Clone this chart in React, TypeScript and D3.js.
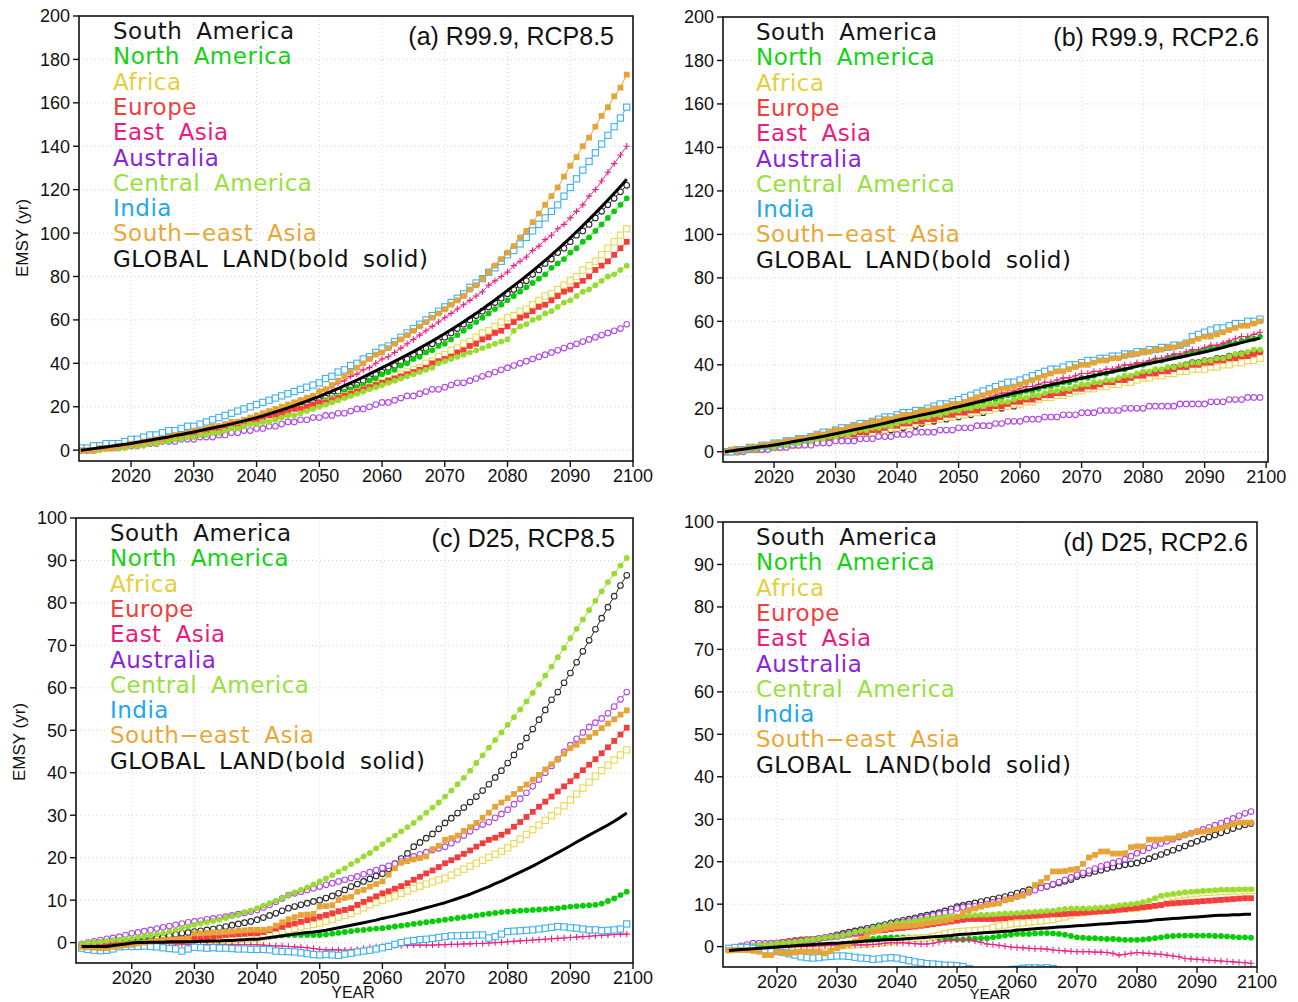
import React from 'react';
import * as d3 from 'd3';

const YEARS = [2012,2013,2014,2015,2016,2017,2018,2019,
2020,2021,2022,2023,2024,2025,2026,2027,2028,2029,
2030,2031,2032,2033,2034,2035,2036,2037,2038,2039,
2040,2041,2042,2043,2044,2045,2046,2047,2048,2049,
2050,2051,2052,2053,2054,2055,2056,2057,2058,2059,
2060,2061,2062,2063,2064,2065,2066,2067,2068,2069,
2070,2071,2072,2073,2074,2075,2076,2077,2078,2079,
2080,2081,2082,2083,2084,2085,2086,2087,2088,2089,
2090,2091,2092,2093,2094,2095,2096,2097,2098,2099];

const X_TICKS = [2020, 2030, 2040, 2050, 2060, 2070, 2080, 2090, 2100];
const Y_TICKS_R = [0, 20, 40, 60, 80, 100, 120, 140, 160, 180, 200];
const Y_TICKS_D = [0, 10, 20, 30, 40, 50, 60, 70, 80, 90, 100];

const LABELS = ['South America', 'North America', 'Africa', 'Europe', 'East Asia', 'Australia',
  'Central America', 'India', 'South\u2212east Asia', 'GLOBAL LAND(bold solid)'];

// ---------- (a) R99.9, RCP8.5 ----------
const A_SA = [0,0,1,1,1,2,2,3, 3,3,4,4,5,5,6,6,7,7, 8,8,9,9,10,11,11,12,13,13, 14,15,16,16,17,18,19,20,21,22, 23,24,25,27,28,29,30,32,33,35, 36,38,39,41,42,44,45,47,49,50, 52,54,56,58,60,62,64,66,68,70, 72,74,76,78,81,83,86,88,91,93, 96,99,101,104,107,110,113,116,119,122];
const A_NA = [0,0,0,1,1,1,2,2, 3,3,3,4,4,5,5,6,6,7, 7,8,9,9,10,10,11,12,12,13, 14,14,15,16,17,17,18,19,20,21, 22,23,24,25,27,28,29,30,32,33, 35,36,37,39,40,42,43,45,46,48, 49,51,53,55,57,59,61,63,65,67, 69,71,73,75,77,79,81,84,86,88, 91,93,96,98,101,104,107,110,113,116];
const A_AF = [0,0,0,1,1,1,2,2, 2,3,3,4,4,5,5,6,6,7, 7,8,8,9,9,10,11,11,12,13, 13,14,15,15,16,17,18,19,19,20, 21,22,23,24,25,26,27,28,29,30, 31,32,33,35,36,37,38,40,41,43, 44,46,47,49,50,52,54,55,57,59, 61,62,64,65,67,69,71,72,74,76, 78,80,83,85,87,90,93,96,99,102];
const A_EU = [0,0,0,1,1,1,2,2, 3,3,4,4,5,5,6,6,7,7, 8,8,9,10,10,11,12,12,13,14, 14,15,16,16,17,18,19,19,20,21, 22,22,23,24,25,26,27,28,29,30, 31,32,33,34,35,36,37,38,40,41, 42,43,45,46,48,49,51,52,54,55, 57,59,61,62,64,66,67,69,71,73, 74,76,78,80,83,85,87,90,93,96];
const A_EA = [0,0,1,1,1,2,2,3, 3,4,4,5,5,6,6,7,7,8, 8,9,9,10,11,11,12,13,13,14, 15,16,17,18,19,20,21,23,24,25, 27,28,29,31,32,34,35,37,38,40, 42,43,45,47,49,51,53,55,57,59, 61,63,65,67,69,71,73,76,78,80, 82,85,87,89,92,94,97,99,102,104, 107,110,113,117,120,124,128,132,136,140];
const A_AU = [0,0,0,1,1,1,1,2, 2,2,3,3,3,4,4,4,5,5, 5,6,6,6,7,7,8,8,9,9, 10,10,11,11,12,13,13,14,14,15, 15,16,16,17,17,18,19,19,20,21, 22,22,23,24,25,25,26,27,28,28, 29,30,31,31,32,33,34,35,36,37, 38,39,40,41,42,43,44,45,46,47, 48,49,50,51,52,53,54,55,56,58];
const A_CA = [0,0,0,0,1,1,1,1, 2,2,2,3,3,4,4,5,5,6, 6,7,7,8,8,9,10,10,11,12, 12,13,13,14,15,16,16,17,18,19, 20,21,22,23,24,25,26,27,28,29, 30,31,32,33,34,35,36,37,38,40, 41,42,43,44,45,46,47,48,49,50, 51,55,57,58,60,61,63,64,66,68, 69,71,73,74,76,78,80,81,83,85];
const A_IN = [1,1,2,2,3,3,3,4, 5,5,6,7,7,8,9,9,10,11, 11,12,13,14,15,16,17,18,19,20, 21,22,23,24,25,26,27,28,29,30, 31,33,34,36,37,39,40,42,43,45, 47,48,50,52,54,56,58,60,62,64, 66,68,70,72,75,77,79,82,84,87, 90,92,95,98,101,104,107,110,113,117, 121,125,129,133,137,141,145,149,153,158];
const A_SE = [0,0,0,1,1,1,2,2, 3,3,4,4,5,5,6,7,7,8, 9,9,10,11,11,12,13,13,14,15, 16,17,18,19,20,21,22,23,24,25, 27,28,30,32,34,36,38,40,42,44, 45,47,49,51,53,55,57,59,61,63, 65,67,69,71,74,76,79,82,85,88, 91,94,98,101,105,109,113,117,121,126, 131,135,140,144,149,154,158,163,167,173];
const A_GL = [0,0.3,0.7,1.1,1.5,1.9,2.3,2.7, 3.1,3.6,4.1,4.6,5.1,5.6,6.1,6.7,7.2,7.8, 8.4,9.0,9.6,10.2,10.8,11.4,12.1,12.8,13.5,14.2, 15.0,15.8,16.7,17.6,18.5,19.5,20.5,21.5,22.6,23.7, 24.8,26.0,27.2,28.4,29.7,31.0,32.3,33.7,35.1,36.5, 38.0,39.4,40.9,42.4,43.9,45.4,47.0,48.6,50.3,52.0, 53.7,55.5,57.3,59.2,61.1,63.0,65.0,67.1,69.2,71.4, 73.6,75.8,78.0,80.3,82.6,85.0,87.4,89.9,92.5,95.1, 97.8,100.6,103.4,106.3,109.2,112.2,115.2,118.3,121.5,124.8];

// ---------- (b) R99.9, RCP2.6 ----------
const B_SA = [0,0,0,1,1,1,1,2, 2,2,3,3,3,4,4,5,5,5, 6,6,7,7,8,8,9,9,10,10, 11,11,12,12,13,14,14,15,15,16, 16,17,17,18,18,19,20,20,21,21, 22,23,23,24,25,25,26,27,27,28, 29,29,30,31,31,32,33,33,34,35, 35,36,37,37,38,39,39,40,41,41, 42,42,43,43,44,44,45,45,46,46];
const B_NA = [0,0,0,1,1,1,2,2, 3,3,4,4,5,5,6,6,7,7, 8,8,9,9,10,10,11,12,12,13, 13,14,15,15,16,17,17,18,19,19, 20,21,21,22,23,24,24,25,26,26, 27,28,28,29,30,30,31,32,32,33, 34,34,35,36,36,37,38,38,39,40, 40,41,42,42,43,44,44,45,46,46, 47,48,48,49,50,50,51,52,52,53];
const B_AF = [0,0,0,1,1,1,1,2, 2,2,3,3,3,4,4,5,5,6, 6,7,7,8,8,9,9,10,10,11, 11,12,12,13,14,14,15,15,16,16, 17,17,18,18,19,19,20,21,21,22, 22,23,23,24,25,25,26,26,27,28, 28,29,29,30,30,31,31,32,32,33, 34,34,35,35,36,36,37,37,38,38, 38,39,39,40,40,41,41,42,42,43];
const B_EU = [0,0,0,1,1,1,1,2, 2,2,3,3,4,4,5,5,6,6, 7,7,8,8,9,9,10,10,11,12, 12,13,13,14,14,15,15,16,17,17, 18,18,19,19,20,20,21,21,22,23, 23,24,24,25,26,26,27,27,28,29, 29,30,30,31,32,32,33,33,34,35, 35,36,36,37,37,38,39,39,40,40, 41,41,42,42,43,43,44,44,45,46];
const B_EA = [0,0,1,1,1,2,2,3, 3,4,4,5,5,6,6,7,8,8, 9,9,10,11,11,12,13,13,14,15, 15,16,16,17,18,18,19,20,20,21, 22,22,23,24,24,25,26,27,27,28, 29,30,30,31,32,32,33,34,34,35, 36,36,37,37,38,38,39,40,40,41, 41,42,43,43,44,45,45,46,47,47, 48,49,49,50,51,52,53,53,54,55];
const B_AU = [0,0,0,0,1,1,1,1, 2,2,2,3,3,3,3,4,4,4, 5,5,5,5,6,6,6,7,7,7, 8,8,8,9,9,9,9,10,10,10, 11,11,11,12,12,12,13,13,14,14, 14,15,15,15,16,16,16,17,17,17, 18,18,18,19,19,19,19,20,20,20, 20,21,21,21,21,21,22,22,22,22, 22,23,23,23,24,24,24,25,25,25];
const B_CA = [0,0,0,1,1,1,2,2, 2,3,3,4,4,5,5,6,6,7, 7,8,8,9,10,10,11,11,12,12, 13,14,14,15,16,16,17,17,18,19, 19,20,20,21,21,22,22,23,23,24, 25,25,26,26,27,28,28,29,29,30, 31,31,32,32,33,33,34,35,35,36, 37,37,38,38,39,39,40,40,41,41, 42,42,43,43,44,45,45,46,47,47];
const B_IN = [0,0,1,1,2,2,3,3, 4,4,5,5,6,6,7,8,9,9, 10,11,11,12,13,13,14,15,16,16, 17,18,18,19,19,20,21,22,22,23, 24,25,26,27,28,29,30,31,32,32, 33,34,35,36,37,38,38,39,40,40, 41,42,42,43,43,44,44,45,45,46, 46,47,47,48,48,49,49,50,53,54, 55,56,57,57,58,59,59,60,60,61];
const B_SE = [0,1,1,1,2,2,3,3, 4,4,5,5,6,6,7,8,8,9, 10,10,11,12,12,13,14,14,15,15, 16,17,17,18,19,19,20,20,21,22, 22,23,24,25,26,27,28,29,29,30, 31,32,33,34,35,36,37,37,38,39, 40,40,41,42,42,43,43,44,45,45, 46,46,47,47,48,48,49,50,51,52, 53,53,54,55,56,57,58,58,59,60];
const B_GL = [0,0.4,0.8,1.2,1.6,2.0,2.4,2.7, 3.1,3.6,4.1,4.6,5.1,5.6,6.1,6.6,7.1,7.7, 8.3,8.9,9.5,10.1,10.7,11.3,11.9,12.5,13.1,13.8, 14.5,15.1,15.7,16.3,16.9,17.5,18.1,18.8,19.4,20.1, 20.7,21.4,22.1,22.8,23.5,24.2,24.9,25.6,26.3,27.0, 27.6,28.2,28.8,29.5,30.1,30.8,31.4,32.0,32.6,33.2, 33.8,34.4,35.0,35.6,36.2,36.8,37.4,38.0,38.6,39.3, 40.0,40.6,41.2,41.7,42.3,42.9,43.5,44.1,44.7,45.3, 45.9,46.6,47.3,48.0,48.8,49.5,50.2,50.9,51.6,52.2];

// ---------- (c) D25, RCP8.5 ----------
const C_SA = [-0.8,-0.6,-0.4,-0.3,-0.1,0,0.1,0.2, 0.2,0.4,0.6,0.9,1.1,1.3,1.6,1.9,2.2,2.4, 2.6,2.8,3.0,3.2,3.5,3.8,4.1,4.4,4.7,5.0, 5.4,5.9,6.4,6.9,7.5,8.1,8.5,8.9,9.3,9.7, 10.0,10.5,11.0,11.6,12.4,13.2,13.8,14.4,15.0,15.7, 16.2,17.4,18.6,19.8,21.0,22.6,23.6,24.6,25.6,26.8, 28.2,29.3,30.5,31.8,33.1,34.4,35.8,37.3,38.9,40.5, 42.3,44.2,46.2,48.2,50.3,52.5,54.8,57.2,59.0,61.2, 63.5,66.0,68.6,71.2,73.8,76.4,79.0,81.6,84.1,86.5];
const C_NA = [-0.5,-0.4,-0.3,-0.2,-0.1,0,0.1,0.1, 0.2,0.3,0.3,0.4,0.4,0.5,0.5,0.5,0.6,0.6, 0.6,0.7,0.7,0.8,0.8,0.8,0.9,0.9,1.0,1.0, 1.0,1.2,1.4,1.6,1.7,1.8,1.8,1.8,1.8,1.8, 1.8,1.9,2.1,2.3,2.5,2.7,2.9,3.0,3.2,3.3, 3.4,3.6,3.8,4.0,4.2,4.4,4.6,4.8,5.0,5.2, 5.4,5.6,5.8,6.0,6.2,6.4,6.6,6.8,7.0,7.2, 7.3,7.4,7.5,7.6,7.7,7.8,7.9,8.0,8.1,8.3, 8.5,8.6,8.7,8.8,8.9,9.2,9.8,10.4,11.2,12.0];
const C_AF = [-1.0,-0.9,-0.8,-0.8,-0.7,-0.6,-0.6,-0.5, -0.5,-0.4,-0.3,-0.2,-0.1,0,0.1,0.1,0.2,0.2, 0.2,0.3,0.4,0.4,0.5,0.6,0.6,0.7,0.8,0.9, 1.0,1.3,1.7,2.1,2.5,3.0,3.3,3.7,4.0,4.3, 4.6,5.0,5.5,6.0,6.4,6.9,7.5,8.2,8.9,9.5, 10.0,10.5,11.0,11.6,12.2,12.8,13.3,13.8,14.3,14.8, 15.2,15.9,16.6,17.3,18.0,18.7,19.4,20.1,20.8,21.5, 22.3,23.3,24.4,25.5,26.6,27.7,28.8,29.9,31.0,32.2, 33.6,35.0,36.4,37.8,39.2,40.5,41.8,43.0,44.2,45.4];
const C_EU = [-1.0,-0.9,-0.8,-0.7,-0.6,-0.5,-0.5,-0.4, -0.4,-0.2,0,0.2,0.4,0.6,0.7,0.8,0.9,1.0, 1.0,1.2,1.3,1.4,1.6,1.8,1.9,2.0,2.1,2.2, 2.2,2.5,2.9,3.3,3.7,4.2,4.5,4.9,5.3,5.7, 6.1,6.5,6.9,7.4,7.7,8.1,8.9,9.6,10.2,10.9, 11.6,12.1,12.7,13.3,14.0,14.8,15.5,16.3,17.0,17.8, 18.7,19.4,20.1,20.9,21.7,22.6,23.4,24.2,24.7,25.4, 26.2,27.3,28.4,29.6,30.8,32.0,33.2,34.4,35.6,36.8, 38.0,39.3,40.6,41.9,43.2,44.6,46.0,47.5,49.0,50.6];
const C_EA = [-0.6,-0.5,-0.5,-0.4,-0.4,-0.3,-0.3,-0.3, -0.4,-0.3,-0.2,-0.2,-0.1,-0.1,-0.2,-0.3,-0.3,-0.4, -0.5,-0.5,-0.5,-0.5,-0.5,-0.5,-0.5,-0.5,-0.5,-0.5, -0.5,-0.6,-0.7,-0.8,-0.8,-0.9,-1.0,-1.1,-1.2,-1.4, -1.6,-1.7,-1.7,-1.7,-1.8,-1.7,-1.6,-1.4,-1.2,-1.0, -0.9,-0.8,-0.7,-0.7,-0.6,-0.6,-0.6,-0.6,-0.6,-0.5, -0.5,-0.4,-0.4,-0.3,-0.3,-0.2,-0.2,-0.1,0,0.1, 0.2,0.3,0.4,0.5,0.6,0.7,0.8,0.9,1.0,1.1, 1.2,1.3,1.4,1.5,1.6,1.7,1.8,1.9,2.0,2.0];
const C_AU = [-0.3,0,0.3,0.6,0.9,1.1,1.4,1.8, 2.2,2.4,2.7,3.0,3.3,3.6,3.9,4.2,4.5,4.8, 5.0,5.2,5.5,5.7,5.9,6.1,6.4,6.7,7.0,7.3, 7.7,8.3,8.9,9.6,10.4,11.2,11.6,12.0,12.4,12.8, 13.2,13.6,14.0,14.4,14.8,15.2,15.6,16.1,16.6,17.1, 17.6,18.1,18.6,19.1,19.7,20.3,20.8,21.3,21.8,22.2, 22.6,23.4,24.3,25.2,26.2,27.2,27.8,28.4,29.4,30.3, 31.3,32.6,33.9,35.3,36.8,38.4,40.0,41.6,43.2,44.9, 46.5,48.0,49.5,50.8,51.8,52.8,54.0,55.6,57.3,59.0];
const C_CA = [-0.3,0,0.1,0.2,0.4,0.6,0.7,0.9, 1.0,1.3,1.6,1.8,2.0,2.2,2.6,3.0,3.4,3.8, 4.2,4.5,4.8,5.1,5.4,5.8,6.2,6.6,7.1,7.6, 8.1,8.7,9.3,9.9,10.5,11.2,11.8,12.4,13.0,13.7, 14.4,15.1,15.9,16.7,17.5,18.5,19.3,20.3,21.1,22.2, 23.2,24.2,25.2,26.2,27.2,28.2,29.4,30.6,31.8,33.0, 34.4,35.8,37.3,38.8,40.5,42.3,44.1,45.9,47.7,49.5, 51.3,53.1,54.9,56.8,58.8,60.8,62.9,65.0,67.2,69.4, 71.7,73.9,76.1,78.3,80.5,82.7,84.9,86.9,88.8,90.6];
const C_IN = [-1.3,-1.6,-1.8,-1.9,-1.8,-1.5,-1.0,-0.9, -0.9,-0.9,-0.8,-0.9,-1.0,-1.2,-1.4,-1.5,-2.0,-1.5, -1.1,-1.2,-1.3,-1.2,-1.3,-1.3,-1.4,-1.5,-1.5,-1.6, -1.6,-1.6,-1.7,-2.0,-2.1,-2.1,-2.2,-2.4,-2.6,-2.8, -2.9,-2.8,-2.9,-3.0,-2.7,-2.5,-2.2,-2.0,-1.8,-1.5, -1.2,-0.9,-0.4,0,0.3,0.5,0.7,0.8,1.0,1.2, 1.4,1.6,1.6,1.7,1.7,1.8,1.8,1.1,1.4,2.0, 2.6,2.7,2.8,2.9,3.0,3.2,3.4,3.6,3.8,3.7, 3.5,3.4,3.2,3.0,3.0,2.8,2.9,3.0,3.2,4.4];
const C_SE = [-1.0,-1.1,-1.2,-1.3,-1.3,-1.0,-0.8,-0.6, -0.5,-0.2,0,0.2,0.4,0.6,0.6,0.7,0.8,0.9, 2.2,2.2,2.3,2.4,2.4,2.5,2.6,2.8,2.9,3.0, 3.0,3.0,3.2,4.0,4.8,5.5,6.0,6.5,6.6,6.8, 8.5,8.6,8.8,10.0,10.5,10.8,12.0,12.4,13.2,13.8, 14.4,16.0,17.5,18.8,19.2,19.6,19.9,20.3,22.0,22.8, 24.2,24.6,25.2,26.3,27.2,28.2,29.4,30.6,32.0,33.0, 34.0,35.0,36.2,37.2,38.4,39.5,40.8,42.0,43.2,44.5, 45.8,46.6,47.5,48.4,49.4,50.5,51.6,52.6,53.7,54.7];
const C_GL = [-0.9,-0.9,-0.9,-0.9,-0.9,-0.7,-0.5,-0.3, -0.1,0,0,0.1,0.1,0.1,0.2,0.2,0.2,0.2, 0.2,0.3,0.3,0.4,0.4,0.5,0.5,0.6,0.7,0.8, 0.8,1.0,1.2,1.4,1.6,1.8,2.0,2.2,2.4,2.5, 2.7,2.9,3.2,3.5,3.8,4.1,4.4,4.7,5.0,5.3, 5.7,6.0,6.3,6.7,7.0,7.4,7.8,8.2,8.6,9.0, 9.4,9.9,10.4,10.9,11.4,12.0,12.6,13.2,13.9,14.5, 15.2,15.9,16.6,17.3,18.0,18.8,19.6,20.4,21.2,22.0, 22.8,23.7,24.5,25.3,26.1,26.9,27.7,28.6,29.5,30.5];

// ---------- (d) D25, RCP2.6 ----------
const D_SA = [-0.5,-0.3,-0.1,0.1,0.3,0.4,0.5,0.6, 0.8,1.0,1.2,1.4,1.6,1.6,1.7,1.9,2.1,2.4, 2.8,3.1,3.4,3.7,4.0,4.3,4.6,4.9,5.2,5.6, 5.9,6.2,6.5,6.8,7.1,7.4,7.7,8.0,8.4,8.9, 9.4,9.7,10.0,10.3,10.6,10.9,11.2,11.5,11.8,12.2, 12.6,13.0,13.4,13.8,14.0,14.2,14.6,15.0,15.4,15.8, 16.5,16.9,17.3,17.7,18.0,18.4,18.7,19.0,19.3,19.5, 19.7,20.2,20.7,21.2,21.7,22.2,22.7,23.2,23.7,24.3, 24.8,25.3,25.8,26.3,26.8,27.3,27.8,28.3,28.7,29.0];
const D_NA = [-0.6,-0.5,-0.4,-0.3,-0.2,-0.1,0,0, 0.1,0.1,0.2,0.2,0.2,0.3,0.3,0.3,0.3,0.4, 0.4,0.6,0.8,1.0,1.3,1.6,1.8,2.0,2.1,2.2, 2.2,2.2,2.2,2.2,2.2,2.2,2.1,2.0,1.9,1.8, 1.7,1.7,1.8,1.9,2.0,2.0,2.2,2.4,2.6,2.8, 3.0,3.0,3.0,3.1,3.2,3.2,3.1,3.0,2.8,2.5, 2.2,2.1,2.0,2.0,1.9,1.8,1.8,1.7,1.6,1.6, 1.6,1.7,1.8,2.0,2.2,2.4,2.5,2.6,2.6,2.6, 2.6,2.6,2.6,2.5,2.5,2.4,2.3,2.2,2.2,2.1];
const D_AF = [-0.8,-0.6,-0.5,-0.4,-0.3,-0.2,-0.1,0, 0,0,0,0,0,0,0,0,0,0, 0.1,0.2,0.3,0.4,0.5,0.6,0.7,0.8,1.0,1.2, 1.4,1.6,1.8,1.9,2.0,2.1,2.4,2.7,3.0,3.3, 3.5,3.6,3.7,3.8,3.9,4.1,4.5,4.9,5.1,5.3, 5.5,5.6,5.8,5.9,6.0,6.2,6.4,6.7,7.0,7.4, 7.9,8.0,8.2,8.4,8.5,8.6,8.7,8.8,8.9,9.0, 9.1,9.3,9.6,10.2,10.8,11.4,11.8,12.0,12.2,12.4, 12.6,12.7,12.8,12.9,13.0,13.0,13.1,13.1,13.2,13.2];
const D_EU = [-0.8,-0.5,-0.3,-0.1,0.1,0.3,0.5,0.7, 0.9,1.1,1.2,1.4,1.5,1.7,1.8,1.9,2.0,2.2, 2.4,2.6,2.8,3.0,3.2,3.5,3.6,3.8,3.9,4.1, 4.3,4.4,4.6,4.7,4.9,5.1,5.3,5.5,5.7,5.9, 6.1,6.3,6.5,6.5,6.5,6.5,6.5,6.6,6.7,6.9, 7.1,7.1,7.2,7.3,7.4,7.5,7.6,7.6,7.7,7.8, 7.9,8.0,8.1,8.2,8.3,8.4,8.5,8.7,8.8,9.0, 9.1,9.3,9.4,9.6,9.8,10.1,10.2,10.3,10.4,10.5, 10.6,10.7,10.8,10.9,11.0,11.1,11.2,11.3,11.4,11.4];
const D_EA = [-0.6,-0.5,-0.5,-0.4,-0.4,-0.3,-0.3,-0.2, -0.2,-0.1,-0.1,0,0,0.1,0.1,0.2,0.2,0.3, 0.3,0.3,0.4,0.4,0.4,0.4,0.5,0.6,0.8,0.9, 0.9,0.9,0.8,0.7,0.6,0.6,0.8,1.1,1.3,1.5, 1.6,1.6,1.6,1.3,1.0,0.6,0.5,0.3,0.1,-0.1, -0.2,-0.3,-0.4,-0.5,-0.5,-0.6,-0.8,-0.9,-1.0,-1.1, -1.2,-1.2,-1.2,-1.3,-1.3,-1.4,-1.6,-2.0,-1.8,-1.6, -1.4,-1.5,-1.6,-1.7,-1.8,-2.0,-2.2,-2.4,-2.8,-2.9, -3.0,-3.1,-3.2,-3.3,-3.4,-3.5,-3.6,-3.7,-3.8,-3.9];
const D_AU = [-0.5,-0.2,0.2,0.5,0.8,0.8,0.8,0.8, 0.8,0.9,1.0,1.1,1.3,1.5,1.7,1.9,2.1,2.3, 2.4,2.7,3.0,3.3,3.6,3.9,4.2,4.5,4.8,5.2, 5.5,5.8,6.1,6.4,6.7,7.0,7.3,7.6,7.9,8.2, 9.0,9.3,9.4,9.5,9.8,10.1,10.4,10.7,11.0,11.4, 11.8,12.3,12.8,13.3,13.8,14.2,14.7,15.2,15.7,16.3, 16.9,17.4,17.9,18.4,18.9,19.3,19.7,20.1,20.6,21.3, 22.0,22.6,23.2,23.8,24.3,24.8,25.3,25.8,26.3,26.7, 27.1,27.6,28.1,28.6,29.1,29.6,30.2,30.8,31.4,31.8];
const D_CA = [-0.5,-0.3,-0.1,0.1,0.3,0.4,0.5,0.6, 0.8,0.9,1.0,1.1,1.3,1.5,1.7,1.9,2.1,2.3, 2.4,2.7,3.0,3.4,3.7,3.9,4.3,4.7,5.0,5.3, 5.5,5.7,5.9,6.1,6.3,6.5,6.7,6.9,7.0,7.1, 7.1,7.2,7.3,7.4,7.5,7.5,7.6,7.7,7.8,7.8, 7.9,8.0,8.1,8.2,8.3,8.4,8.5,8.7,8.9,9.0, 9.0,9.0,9.0,9.1,9.2,9.3,9.5,9.7,9.9,10.0, 10.2,10.5,10.9,11.4,12.0,12.2,12.4,12.6,12.8,12.9, 13.0,13.1,13.2,13.3,13.4,13.4,13.4,13.5,13.5,13.5];
const D_IN = [-0.4,-0.2,-0.2,-0.2,-0.4,-0.6,-0.8,-1.0, -1.2,-1.4,-1.7,-2.0,-2.4,-2.6,-2.7,-2.6,-2.4,-2.3, -2.2,-2.2,-2.3,-2.5,-2.7,-2.8,-3.0,-2.9,-2.7,-2.6, -2.7,-3.0,-3.3,-3.6,-3.8,-4.0,-4.1,-4.2,-4.4,-4.4, -4.5,-4.7,-5.2,-5.6,-5.9,-6.0,-6.0,-5.8,-5.6,-5.4, -5.3,-5.1,-5.0,-5.0,-5.1,-5.0,-5.2,-5.5,-5.8,-6.0, -6.2,-6.5,-6.8,-7.0,-7.2,-7.4,-7.6,-7.8,-8.0,-8.2, -8.3,-8.4,-8.5,-8.6,-8.7,-8.8,-8.9,-9.0,-9.1,-9.2, -9.3,-9.4,-9.5,-9.6,-9.7,-9.8,-9.9,-10.0,-10.1,-10.2];
const D_SE = [-0.8,-0.8,-0.8,-0.8,-1.0,-1.2,-2.0,-2.0, -1.2,-1.4,-1.6,-1.4,-1.2,-1.2,-1.2,-1.2,-1.6,-1.0, -0.4,0.2,0.6,1.2,1.8,2.5,3.5,3.8,4.2,4.5, 4.7,4.8,4.9,5.0,5.2,5.5,5.7,5.9,6.1,6.4, 7.0,8.0,8.6,9.0,9.4,9.8,10.0,10.2,11.0,11.2, 11.8,12.0,13.0,14.5,15.2,16.2,17.7,17.7,17.8,18.1, 18.3,19.5,21.0,21.6,22.4,22.4,21.9,21.9,22.0,23.4, 23.6,23.6,25.2,25.2,25.2,25.5,25.5,26.0,26.3,26.7, 27.1,27.1,27.3,27.6,27.9,28.3,28.8,29.2,29.2,29.2];
const D_GL = [-0.9,-0.8,-0.7,-0.6,-0.5,-0.4,-0.3,-0.2, -0.1,0,0.1,0.2,0.3,0.4,0.5,0.6,0.7,0.8, 0.8,0.9,1.0,1.1,1.2,1.3,1.4,1.5,1.6,1.7, 1.7,1.8,1.9,2.0,2.1,2.2,2.3,2.4,2.5,2.6, 2.8,2.9,3.0,3.1,3.2,3.3,3.4,3.5,3.6,3.7, 3.9,4.0,4.1,4.2,4.3,4.4,4.5,4.6,4.7,4.8, 4.9,5.0,5.1,5.2,5.3,5.4,5.5,5.6,5.7,5.8, 5.9,6.0,6.1,6.3,6.4,6.5,6.6,6.7,6.8,6.9, 7.0,7.1,7.2,7.3,7.4,7.4,7.5,7.5,7.6,7.6];

// ---------- styles ----------
type MarkerKind = 'ocircle' | 'fcircle' | 'osquare' | 'fsquare' | 'plus';
const STYLES: { text: string; color: string; marker: MarkerKind }[] = [
  { text: '#151515', color: '#2a2a2a', marker: 'ocircle' },
  { text: '#14d214', color: '#08cc08', marker: 'fcircle' },
  { text: '#e4d03c', color: '#e8d850', marker: 'osquare' },
  { text: '#f23e3e', color: '#f43c3c', marker: 'fsquare' },
  { text: '#ea1a7e', color: '#ec2084', marker: 'plus' },
  { text: '#8a24dc', color: '#b048e4', marker: 'ocircle' },
  { text: '#98e03c', color: '#98dc30', marker: 'fcircle' },
  { text: '#22a6f0', color: '#3cb0f2', marker: 'osquare' },
  { text: '#e8a838', color: '#e6a436', marker: 'fsquare' },
];

const PANELS = [
  { id: 'a', left: 79, right: 633, top: 16, bottom: 461, xDom: [2011.7, 2100], yDom: [-5, 200], yTicks: Y_TICKS_R,
    title: '(a) R99.9, RCP8.5', titleX: 614, titleY: 45, legX: 113, legY: 39,
    series: [A_SA, A_NA, A_AF, A_EU, A_EA, A_AU, A_CA, A_IN, A_SE], global: A_GL, yTitle: [22, 238], xTitle: null },
  { id: 'b', left: 723, right: 1268, top: 17, bottom: 462, xDom: [2011.7, 2100.3], yDom: [-4.7, 200], yTicks: Y_TICKS_R,
    title: '(b) R99.9, RCP2.6', titleX: 1259, titleY: 46, legX: 756, legY: 40,
    series: [B_SA, B_NA, B_AF, B_EU, B_EA, B_AU, B_CA, B_IN, B_SE], global: B_GL, yTitle: null, xTitle: null },
  { id: 'c', left: 76, right: 633, top: 518, bottom: 963, xDom: [2011.1, 2100], yDom: [-4.8, 100], yTicks: Y_TICKS_D,
    title: '(c) D25, RCP8.5', titleX: 615, titleY: 547, legX: 110, legY: 541,
    series: [C_SA, C_NA, C_AF, C_EU, C_EA, C_AU, C_CA, C_IN, C_SE], global: C_GL, yTitle: [19, 742], xTitle: [353, 998], xTitleSize: 16 },
  { id: 'd', left: 723, right: 1257, top: 522, bottom: 967, xDom: [2011, 2100], yDom: [-4.8, 100], yTicks: Y_TICKS_D,
    title: '(d) D25, RCP2.6', titleX: 1248, titleY: 551, legX: 756, legY: 545,
    series: [D_SA, D_NA, D_AF, D_EU, D_EA, D_AU, D_CA, D_IN, D_SE], global: D_GL, yTitle: null, xTitle: [990, 999], xTitleSize: 15 },
];

function Marker({ kind, x, y, color }: { kind: MarkerKind; x: number; y: number; color: string }) {
  switch (kind) {
    case 'ocircle':
      return <circle cx={x} cy={y} r={2.8} fill="#fff" stroke={color} strokeWidth={1.1} />;
    case 'fcircle':
      return <circle cx={x} cy={y} r={2.9} fill={color} stroke="none" />;
    case 'osquare':
      return <rect x={x - 3.1} y={y - 3.1} width={6.2} height={6.2} fill="#fff" stroke={color} strokeWidth={1.1} />;
    case 'fsquare':
      return <rect x={x - 2.9} y={y - 2.9} width={5.8} height={5.8} fill={color} stroke="none" />;
    case 'plus':
      return <path d={`M${x - 3.2},${y}H${x + 3.2}M${x},${y - 3.2}V${y + 3.2}`} stroke={color} strokeWidth={1.1} fill="none" />;
  }
  return null;
}

const TICK_FONT = '"Liberation Sans", Arial, Helvetica, sans-serif';
const LEG_FONT = '"DejaVu Sans", Verdana, sans-serif';

function Panel({ cfg }: { cfg: any }) {
  const x = d3.scaleLinear().domain(cfg.xDom).range([cfg.left, cfg.right]);
  const y = d3.scaleLinear().domain(cfg.yDom).range([cfg.bottom, cfg.top]);
  const line = d3.line<number>().x((_, i) => x(YEARS[i])).y((d) => y(d));
  const clipId = 'clip-' + cfg.id;
  return (
    <g>
      <defs>
        <clipPath id={clipId}>
          <rect x={cfg.left} y={cfg.top} width={cfg.right - cfg.left} height={cfg.bottom - cfg.top} />
        </clipPath>
      </defs>
      {cfg.yTicks.filter((t: number) => t > cfg.yDom[0] && t < cfg.yDom[1]).map((t: number) => (
        <line key={'gy' + t} x1={cfg.left} x2={cfg.right} y1={y(t)} y2={y(t)} stroke="#d4d4d4" strokeWidth={1} strokeDasharray="1,3" />
      ))}
      {X_TICKS.filter((t) => t < cfg.xDom[1] - 0.5).map((t) => (
        <line key={'gx' + t} x1={x(t)} x2={x(t)} y1={cfg.top} y2={cfg.bottom} stroke="#d4d4d4" strokeWidth={1} strokeDasharray="1,3" />
      ))}
      <g clipPath={`url(#${clipId})`}>
        {cfg.series.map((vals: number[], si: number) => {
          const st = STYLES[si];
          return (
            <g key={'s' + si}>
              <path d={line(vals) || ''} fill="none" stroke={st.color} strokeWidth={1} />
              {vals.map((v, i) => (
                <Marker key={i} kind={st.marker} x={x(YEARS[i])} y={y(v)} color={st.color} />
              ))}
            </g>
          );
        })}
        <path d={line(cfg.global) || ''} fill="none" stroke="#000" strokeWidth={3} strokeLinejoin="round" />
      </g>
      <rect x={cfg.left} y={cfg.top} width={cfg.right - cfg.left} height={cfg.bottom - cfg.top} fill="none" stroke="#111" strokeWidth={1.6} />
      {cfg.yTicks.map((t: number) => (
        <g key={'yt' + t}>
          <line x1={cfg.left - 6} x2={cfg.left} y1={y(t)} y2={y(t)} stroke="#111" strokeWidth={1.4} />
          <text x={cfg.left - 9} y={y(t)} dy="0.36em" textAnchor="end" fontFamily={TICK_FONT} fontSize={18} fill="#111">{t}</text>
        </g>
      ))}
      {X_TICKS.map((t) => (
        <g key={'xt' + t}>
          <line x1={x(t)} x2={x(t)} y1={cfg.bottom} y2={cfg.bottom + 6} stroke="#111" strokeWidth={1.4} />
          <text x={x(t)} y={cfg.bottom + 21} textAnchor="middle" fontFamily={TICK_FONT} fontSize={18} fill="#111">{t}</text>
        </g>
      ))}
      <text x={cfg.titleX} y={cfg.titleY} textAnchor="end" fontFamily={TICK_FONT} fontSize={25} fill="#111">{cfg.title}</text>
      {LABELS.map((lab, i) => (
        <text key={'l' + i} x={cfg.legX} y={cfg.legY + i * 25.3} fontFamily={LEG_FONT} fontSize={23}
          letterSpacing={0.5} wordSpacing={6} fill={i < 9 ? STYLES[i].text : '#111'}>{lab}</text>
      ))}
      {cfg.yTitle && (
        <text transform={`translate(${cfg.yTitle[0]},${cfg.yTitle[1]}) rotate(-90)`} textAnchor="middle" dy="0.35em"
          fontFamily={TICK_FONT} fontSize={17} fill="#111">EMSY (yr)</text>
      )}
      {cfg.xTitle && (
        <text x={cfg.xTitle[0]} y={cfg.xTitle[1]} textAnchor="middle" fontFamily={TICK_FONT} fontSize={cfg.xTitleSize} fill="#111">YEAR</text>
      )}
    </g>
  );
}

export default function App() {
  return (
    <svg width={1298} height={1002} viewBox="0 0 1298 1002"
      style={{ position: 'absolute', left: 0, top: 0, background: '#fff', display: 'block' }}>
      <rect x={0} y={0} width={1298} height={1002} fill="#fff" />
      {PANELS.map((p) => <Panel key={p.id} cfg={p} />)}
    </svg>
  );
}
